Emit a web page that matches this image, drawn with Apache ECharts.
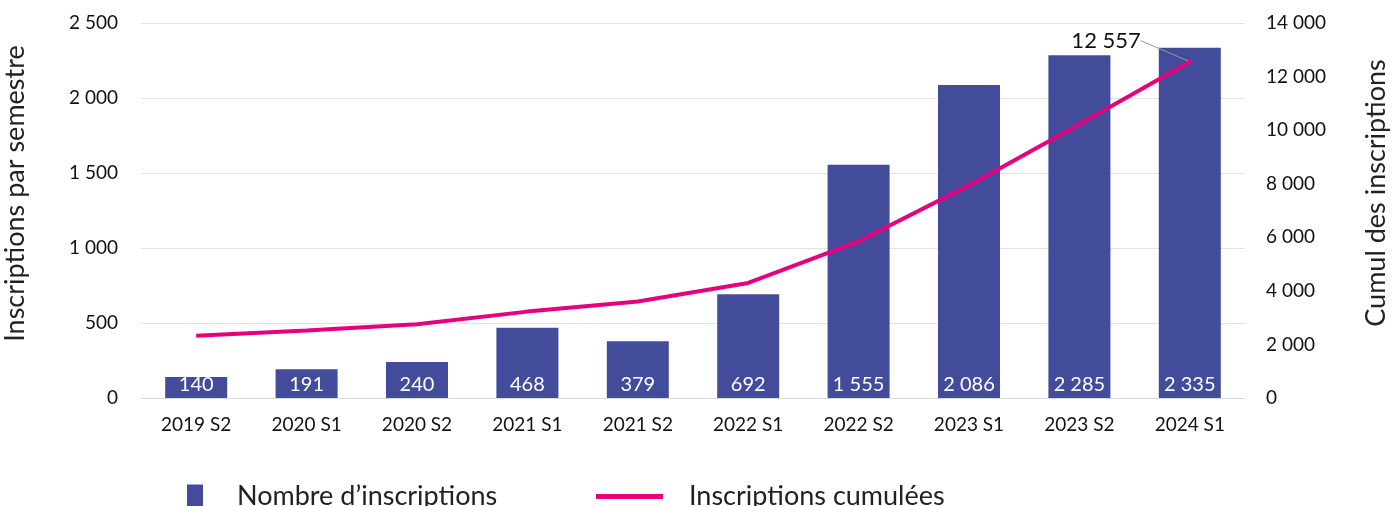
<!DOCTYPE html>
<html>
<head>
<meta charset="utf-8">
<script src="https://cdn.jsdelivr.net/npm/echarts@6/dist/echarts.min.js"></script>
<style>
  html, body { margin: 0; padding: 0; background: #fff; }
  #chart { width: 1392px; height: 506px; }
</style>
</head>
<body>
<div id="chart"></div>
<script>
const categories = ['2019 S2', '2020 S1', '2020 S2', '2021 S1', '2021 S2', '2022 S1', '2022 S2', '2023 S1', '2023 S2', '2024 S1'];
const semesterCounts = [140, 191, 240, 468, 379, 692, 1555, 2086, 2285, 2335];
const cumulative = [2326, 2517, 2757, 3225, 3604, 4296, 5851, 7937, 10222, 12557];

const fontFamily = 'Lato, "Noto Sans", sans-serif';
const fmt = (v) => String(v).replace(/\B(?=(\d{3})+(?!\d))/g, ' ');

const myChart = echarts.init(document.getElementById('chart'));

// only the last point of the cumulative line gets a label
const lineData = cumulative.map((v, i) => {
  if (i === cumulative.length - 1) {
    return {
      value: v,
      symbol: 'circle',
      symbolSize: 4,
      label: {
        show: true,
        position: 'left',
        distance: 2,
        formatter: (p) => fmt(p.value),
        color: '#111',
        fontSize: 22,
        fontFamily: fontFamily,
      },
      labelLine: { show: true, lineStyle: { color: '#999', width: 1 } },
    };
  }
  return v;
});

const legendText = { fontSize: 27, color: '#222', fontFamily: fontFamily };

const option = {
  animation: false,
  grid: { left: 141, right: 147, top: 23, bottom: 108, outerBoundsMode: 'none', containLabel: false },
  legend: [
    {
      top: 478,
      left: 182,
      itemWidth: 16,
      itemHeight: 24,
      icon: 'rect',
      textStyle: Object.assign({ padding: [0, 0, 0, 29] }, legendText),
      data: ["Nombre d’inscriptions"],
    },
    {
      top: 478,
      left: 591,
      itemWidth: 67,
      itemHeight: 5,
      icon: 'rect',
      textStyle: Object.assign({ padding: [0, 0, 0, 21] }, legendText),
      data: ['Inscriptions cumulées'],
    },
  ],
  xAxis: {
    type: 'category',
    data: categories,
    axisTick: { show: false },
    axisLine: { lineStyle: { color: '#d9d9d9', width: 1 } },
    axisLabel: { color: '#111', fontSize: 19, margin: 17, fontFamily: fontFamily },
  },
  yAxis: [
    {
      type: 'value',
      min: 0,
      max: 2500,
      interval: 500,
      name: 'Inscriptions par semestre',
      nameLocation: 'middle',
      nameGap: 112,
      nameTextStyle: { fontSize: 27, color: '#222', fontFamily: fontFamily, padding: [0, 0, 0, 34] },
      axisLabel: { color: '#111', fontSize: 19, margin: 23, formatter: fmt, fontFamily: fontFamily },
      splitLine: { lineStyle: { color: '#e3e3e3', width: 1 } },
      axisLine: { show: false },
      axisTick: { show: false },
    },
    {
      type: 'value',
      min: 0,
      max: 14000,
      interval: 2000,
      name: 'Cumul des inscriptions',
      nameLocation: 'middle',
      nameGap: 118,
      nameRotate: 90,
      nameTextStyle: { fontSize: 27, color: '#222', fontFamily: fontFamily, padding: [0, 0, 0, 35] },
      axisLabel: { color: '#111', fontSize: 19, margin: 21, formatter: fmt, fontFamily: fontFamily },
      splitLine: { show: false },
      axisLine: { show: false },
      axisTick: { show: false },
    },
  ],
  series: [
    {
      name: "Nombre d’inscriptions",
      type: 'bar',
      data: semesterCounts,
      barWidth: 62,
      itemStyle: { color: '#434c9b' },
      label: {
        show: true,
        position: 'insideBottom',
        distance: 3,
        color: '#fff',
        fontSize: 20,
        fontFamily: fontFamily,
        formatter: (p) => fmt(p.value),
      },
    },
    {
      name: 'Inscriptions cumulées',
      type: 'line',
      yAxisIndex: 1,
      data: lineData,
      symbol: 'none',
      smooth: false,
      lineStyle: { color: '#e6007e', width: 4 },
      itemStyle: { color: '#e6007e' },
      labelLayout: { dx: -45, dy: -21 },
    },
  ],
};

myChart.setOption(option);
</script>
</body>
</html>
